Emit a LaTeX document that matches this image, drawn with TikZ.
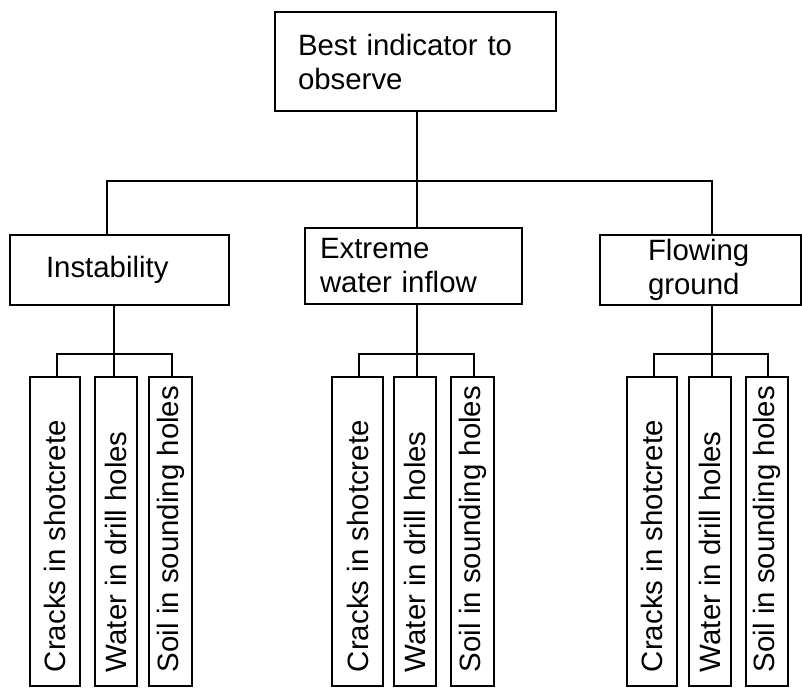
\documentclass[tikz,border=0pt]{standalone}
\usepackage{fontspec}
\setmainfont{Liberation Sans}
\begin{document}
\begin{tikzpicture}[x=0.5pt,y=-0.5pt,
  every node/.style={font=\fontsize{14.7}{17}\selectfont},
  box/.style={draw,line width=1pt,inner ysep=0pt,align=left},
  leaf/.style={draw,line width=1pt,rotate=90,minimum width=154.5pt,inner xsep=7pt,inner ysep=0pt},
  link/.style={line width=1pt}]
  \useasboundingbox (0,0) rectangle (802,687);
  % top level
  \node[box,minimum height=49.5pt,inner xsep=11.5pt,text width=117.5pt] (best) at (415.5,61.5) {Best indicator to\\observe};
  % categories
  \node[box,minimum height=35pt,inner xsep=18pt,text width=73.5pt] (inst) at (119.5,270) {Instability};
  \node[box,minimum height=38pt,inner xsep=7.5pt,text width=93.5pt] (xwater) at (413.5,266) {Extreme\\water inflow};
  \node[box,minimum height=35pt,inner xsep=24pt,text width=52.5pt] (flow) at (700.5,270) {Flowing\\ground};
  % bus to categories
  \coordinate (bus) at (417,181);
  \coordinate (b1) at (107,181);
  \coordinate (b3) at (712,181);
  \draw[link] (best.south -| bus) -- (bus);
  \draw[link] (b1 |- inst.north) -- (b1) -- (b3) -- (b3 |- flow.north);
  \draw[link] (bus) -- (bus |- xwater.north);
  % indicators under each category
  \foreach \g/\cat/\jx/\xa/\wa/\da/\xb/\wb/\xc/\wc/\dc in {
      1/inst/114/55/25/1/116/21/170.5/21.5/0.75,
      2/xwater/417/357.5/25.5/0.75/415/21/472.5/21.5/0.75,
      3/flow/712/652/25/1/710/21/767/21/0.5} {
    \node[leaf,minimum height=\wa pt] (c\g) at (\xa,531.5) {\makebox[140.5pt][l]{Cracks in shotcrete}};
    \node[leaf,minimum height=\wb pt] (w\g) at (\xb,531.5) {\makebox[140.5pt][l]{Water in drill holes}};
    \node[leaf,minimum height=\wc pt] (s\g) at (\xc,531.5) {\makebox[140.5pt][l]{Soil in sounding holes}};
    \coordinate (j\g) at (\jx,354);
    \draw[link] (j\g |- \cat.south) -- (j\g);
    \draw[link] ([xshift=\da pt]c\g.east) |- (j\g) -| ([xshift=\dc pt]s\g.east);
    \draw[link] (j\g) -- (j\g |- w\g.east);
  }
\end{tikzpicture}
\end{document}
